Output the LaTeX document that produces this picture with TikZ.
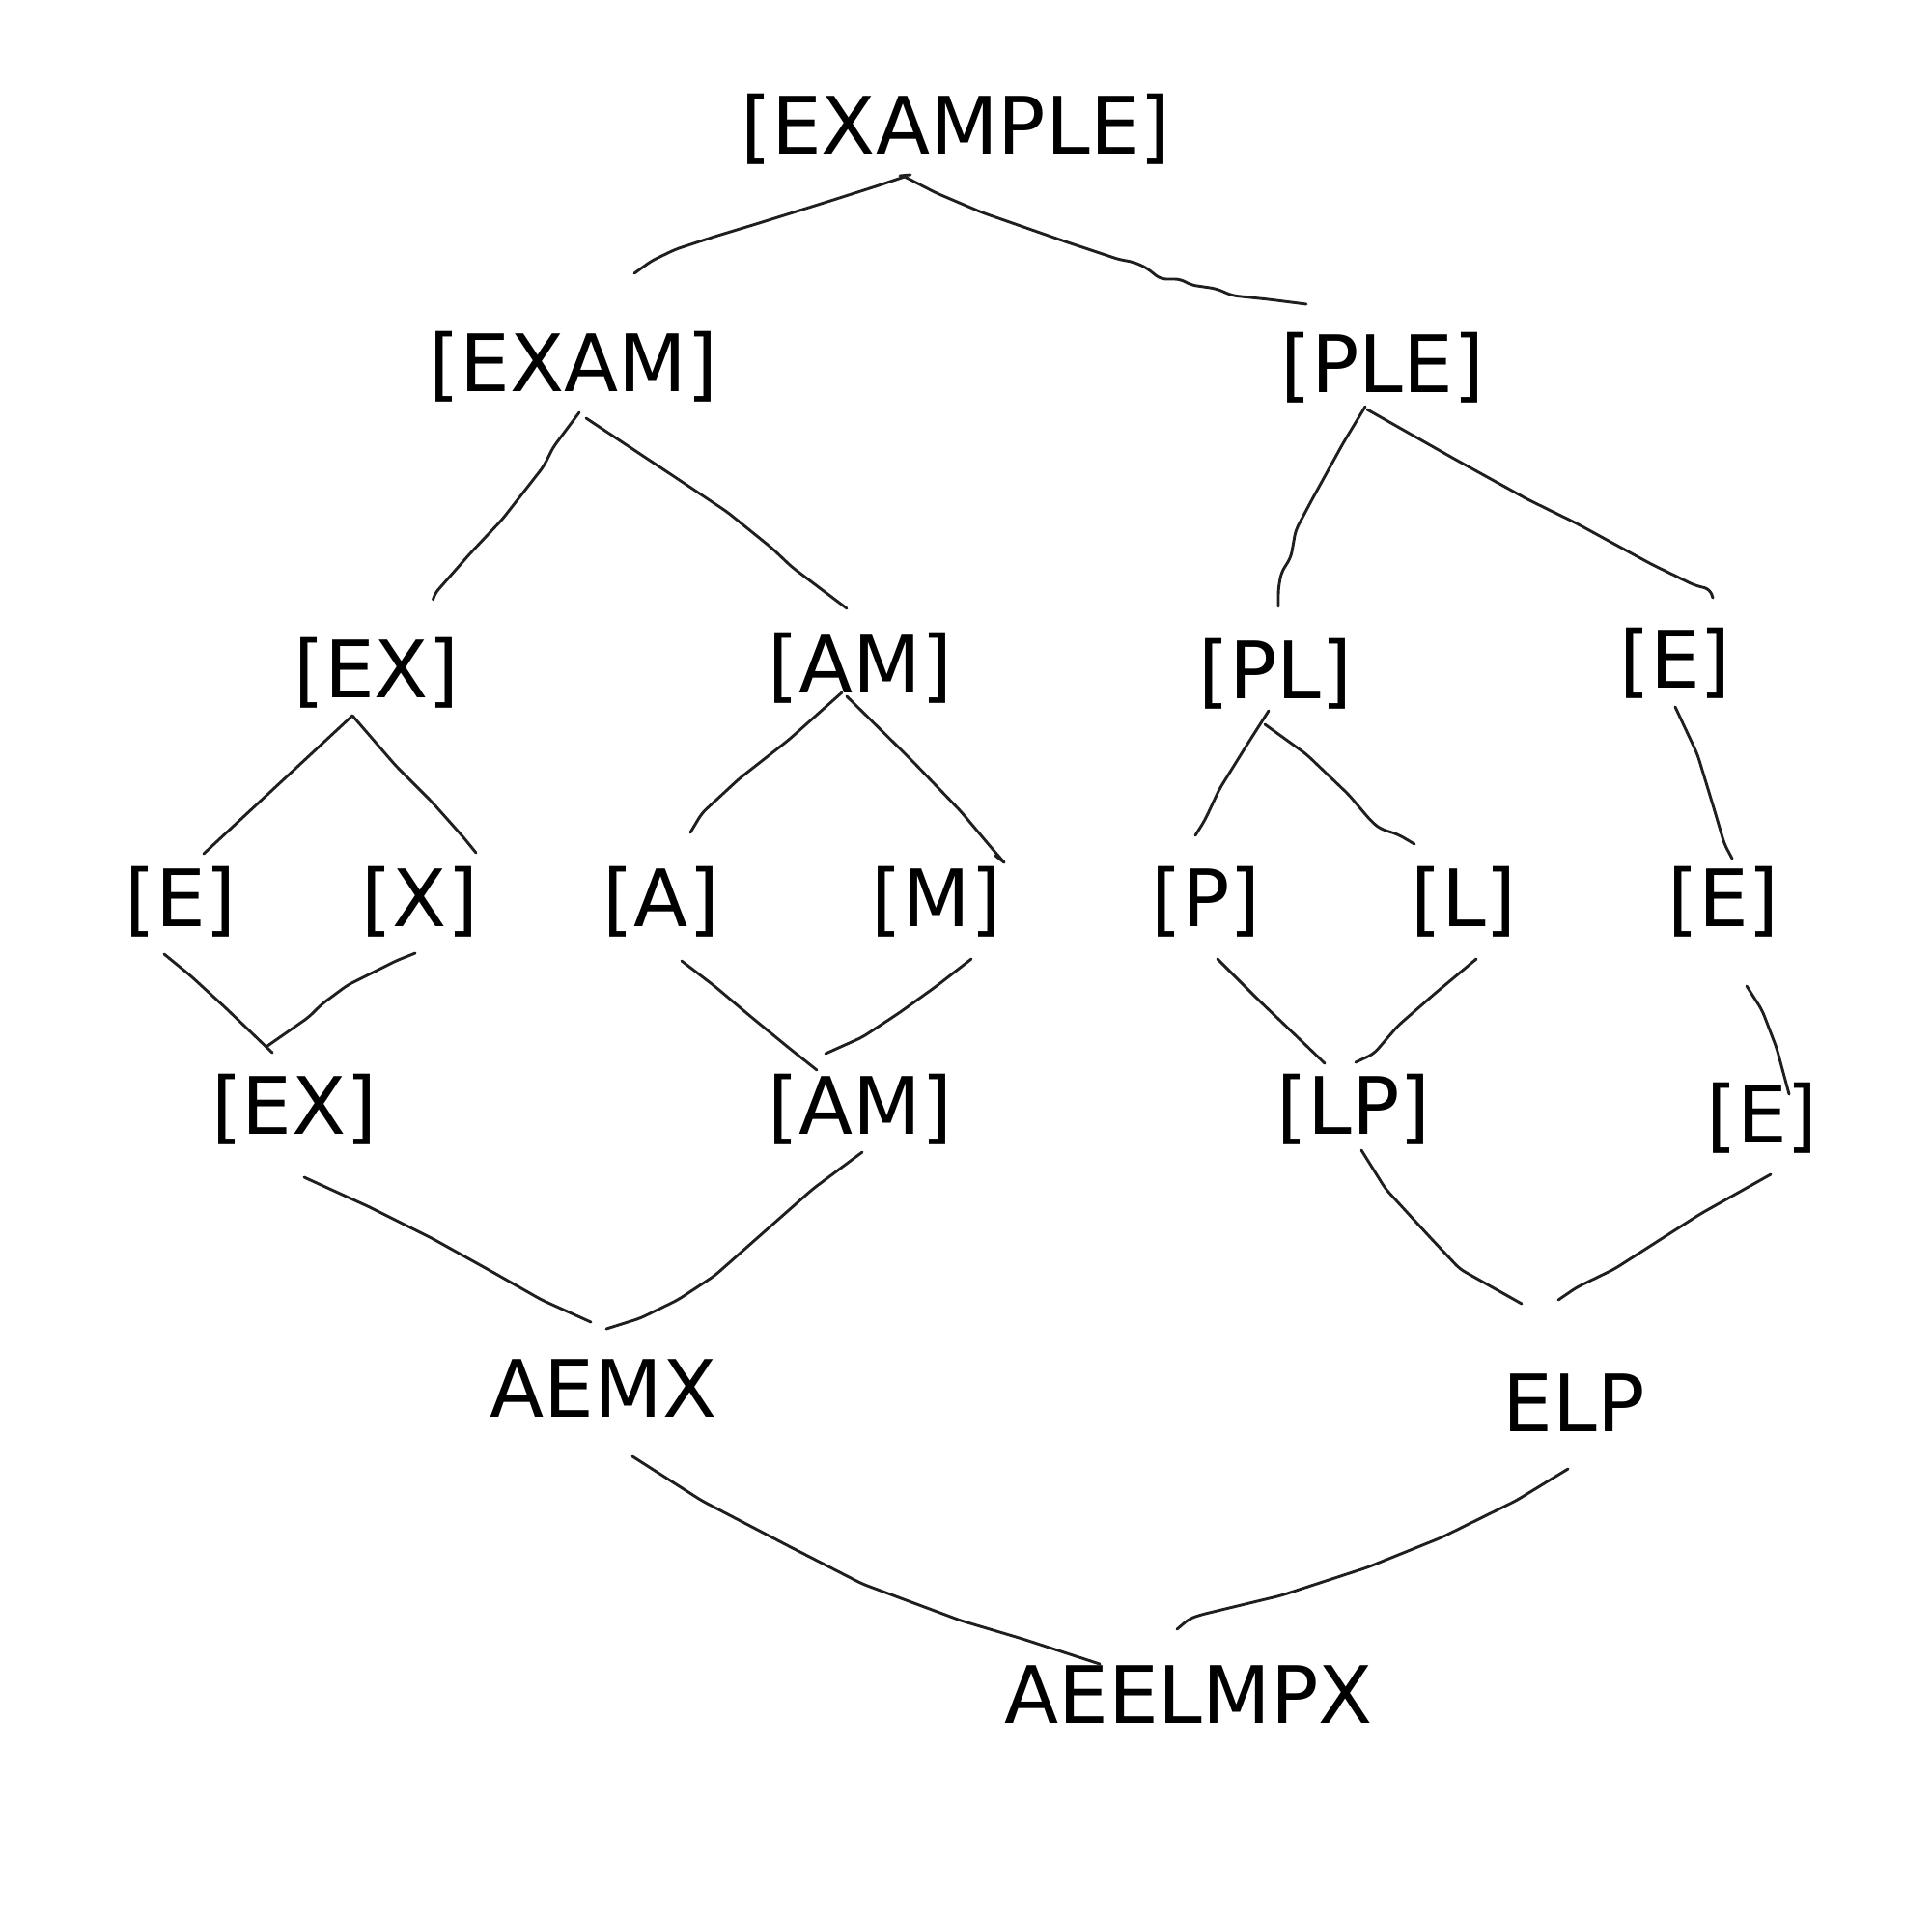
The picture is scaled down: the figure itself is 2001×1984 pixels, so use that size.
\documentclass[tikz,border=0pt]{standalone}
\usepackage{fontspec}
\setmainfont{DejaVu Sans}
\begin{document}
\tikzset{
  lbl/.style={anchor=base, inner sep=0pt, font=\fontsize{82}{100}\selectfont},
  hand/.style={draw=black!88, line width=2.9pt, line join=round, line cap=round, rounded corners=6pt}
}
\begin{tikzpicture}[x=1pt,y=-1pt]
\useasboundingbox (0,0) rectangle (2001,1984);
% nodes
\node[lbl] (n1) at (990,159) {[EXAMPLE]};
\node[lbl] (n2) at (594,405) {[EXAM]};
\node[lbl] (n3) at (1432,406) {[PLE]};
\node[lbl] (n4) at (390,722) {[EX]};
\node[lbl] (n5) at (891,717) {[AM]};
\node[lbl] (n6) at (1321,723) {[PL]};
\node[lbl] (n7) at (1735,712) {[E]};
\node[lbl] (n8) at (187,959) {[E]};
\node[lbl] (n9) at (435,959) {[X]};
\node[lbl] (n10) at (685,959) {[A]};
\node[lbl] (n11) at (970,959) {[M]};
\node[lbl] (n12) at (1249,959) {[P]};
\node[lbl] (n13) at (1516,959) {[L]};
\node[lbl] (n14) at (1785,959) {[E]};
\node[lbl] (n15) at (305,1174) {[EX]};
\node[lbl] (n16) at (891,1174) {[AM]};
\node[lbl] (n17) at (1402,1174) {[LP]};
\node[lbl] (n18) at (1825,1183) {[E]};
\node[lbl] (n19) at (625,1467) {AEMX};
\node[lbl] (n20) at (1630,1482) {ELP};
\node[lbl] (n21) at (1231,1784) {AEELMPX};
% connector end points
\coordinate (n1a) at (937,183);
\coordinate (n2t) at (657,283);
\coordinate (n3t) at (1353,315);
\coordinate (n2b) at (600,427);
\coordinate (n2c) at (607,433);
\coordinate (n4t) at (449,619);
\coordinate (n5t) at (877,630);
\coordinate (n3b) at (1414,421);
\coordinate (n3c) at (1416,424);
\coordinate (n6t) at (1324,628);
\coordinate (n7t) at (1774,619);
\coordinate (n4b) at (365,741);
\coordinate (n8t) at (211,884);
\coordinate (n9t) at (493,883);
\coordinate (n5b) at (872,717);
\coordinate (n5c) at (877,721);
\coordinate (n10t) at (715,862);
\coordinate (n11t) at (1040,893);
\coordinate (n6b) at (1314,736);
\coordinate (n6c) at (1310,750);
\coordinate (n12t) at (1238,865);
\coordinate (n13t) at (1465,874);
\coordinate (n7b) at (1735,732);
\coordinate (n14t) at (1794,889);
\coordinate (n8b) at (170,988);
\coordinate (n9b) at (430,987);
\coordinate (n15t) at (282,1090);
\coordinate (n15u) at (277,1083);
\coordinate (n10b) at (706,995);
\coordinate (n11b) at (1006,993);
\coordinate (n16t) at (846,1108);
\coordinate (n16u) at (855,1091);
\coordinate (n12b) at (1261,993);
\coordinate (n13b) at (1529,993);
\coordinate (n17t) at (1372,1101);
\coordinate (n17u) at (1404,1100);
\coordinate (n14b) at (1809,1021);
\coordinate (n18t) at (1853,1133);
\coordinate (n15b) at (315,1219);
\coordinate (n16b) at (893,1193);
\coordinate (n19t) at (612,1369);
\coordinate (n19u) at (628,1376);
\coordinate (n17b) at (1410,1191);
\coordinate (n18b) at (1834,1216);
\coordinate (n20t) at (1576,1350);
\coordinate (n20u) at (1614,1346);
\coordinate (n19b) at (655,1508);
\coordinate (n20b) at (1624,1521);
\coordinate (n21t) at (1139,1723);
\coordinate (n21u) at (1219,1687);
% connectors
\draw[hand] (n1a) -- (907,193) -- (860,208) -- (783,232) -- (740,245) -- (700,258) -- (675,270) -- (n2t);
\draw[hand] (932,182) -- (943,181);
\draw[hand] (n1a) -- (970,200) -- (1017,220) -- (1103,250) -- (1160,269) -- (1173,271) -- (1187,277) -- (1202,289) -- (1223,289) -- (1233,295) -- (1260,299) -- (1276,306) -- (1314,310) -- (n3t);
\draw[hand] (n2b) -- (573,463) -- (563,483) -- (520,538) -- (487,573) -- (450,615) -- (n4t);
\draw[hand] (n2c) -- (693,490) -- (753,530) -- (800,568) -- (820,587) -- (n5t);
\draw[hand] (n3b) -- (1391,459) -- (1359,517) -- (1342,549) -- (1337,577) -- (1327,593) -- (1324,610) -- (n6t);
\draw[hand] (n3c) -- (1506,475) -- (1582,517) -- (1633,542) -- (1710,584) -- (1755,606) -- (1771,610) -- (n7t);
\draw[hand] (n4b) -- (n8t);
\draw[hand] (n4b) -- (410,793) -- (447,830) -- (480,867) -- (n9t);
\draw[hand] (n5b) -- (817,766) -- (766,806) -- (727,842) -- (n10t);
\draw[hand] (n5c) -- (944,787) -- (995,840) -- (1027,878) -- (n11t);
\draw[hand] (1031,886) -- (1040,893);
\draw[hand] (n6b) -- (1291,772) -- (1263,817) -- (1248,849) -- (n12t);
\draw[hand] (n6c) -- (1353,781) -- (1397,823) -- (1419,849) -- (1429,858) -- (1448,864) -- (n13t);
\draw[hand] (n7b) -- (1758,781) -- (1776,840) -- (1786,874) -- (n14t);
\draw[hand] (n8b) -- (197,1010) -- (233,1043) -- (n15t);
\draw[hand] (n9b) -- (410,995) -- (360,1020) -- (333,1040) -- (320,1053) -- (300,1067) -- (n15u);
\draw[hand] (n10b) -- (740,1021) -- (778,1053) -- (817,1085) -- (n16t);
\draw[hand] (n11b) -- (970,1021) -- (931,1049) -- (893,1074) -- (n16u);
\draw[hand] (n12b) -- (1302,1034) -- (1346,1076) -- (n17t);
\draw[hand] (n13b) -- (1487,1028) -- (1448,1062) -- (1423,1091) -- (n17u);
\draw[hand] (n14b) -- (1825,1046) -- (1840,1085) -- (n18t);
\draw[hand] (n15b) -- (383,1250) -- (447,1282) -- (510,1317) -- (561,1346) -- (n19t);
\draw[hand] (n16b) -- (842,1231) -- (791,1276) -- (740,1321) -- (702,1346) -- (663,1365) -- (n19u);
\draw[hand] (n17b) -- (1435,1231) -- (1480,1280) -- (1512,1314) -- (n20t);
\draw[hand] (n18b) -- (1761,1257) -- (1672,1314) -- (1633,1333) -- (n20u);
\draw[hand] (n19b) -- (727,1554) -- (817,1601) -- (893,1640) -- (995,1678) -- (1059,1697) -- (n21t);
\draw[hand] (n20b) -- (1570,1554) -- (1493,1592) -- (1416,1623) -- (1327,1652) -- (1244,1672) -- (1232,1676) -- (n21u);
\end{tikzpicture}
\end{document}
